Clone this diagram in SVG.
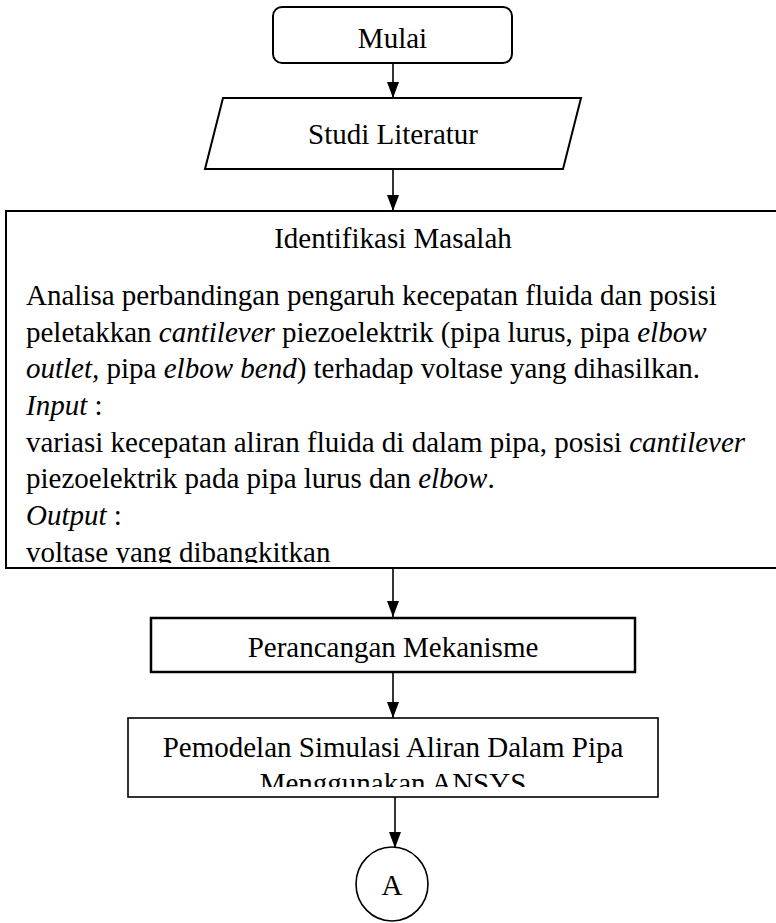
<svg xmlns="http://www.w3.org/2000/svg" width="776" height="923" viewBox="0 0 776 923">
  <style>
    .shape { fill: #ffffff; stroke: #000000; stroke-width: 2; }
    .txt { font-family: "Liberation Serif", "Times New Roman", serif; font-size: 29px; fill: #000000; }
    .mid { text-anchor: middle; }
    .it { font-style: italic; }
    .link { stroke: #000000; stroke-width: 1.6; fill: none; marker-end: url(#arrow); }
  </style>
  <defs>
    <marker id="arrow" markerWidth="16" markerHeight="12" refX="16" refY="6" orient="auto" markerUnits="userSpaceOnUse" viewBox="0 0 16 12">
      <path d="M0,0 L16,6 L0,12 Z" fill="#000000"/>
    </marker>
    <clipPath id="clipIdent"><rect x="6" y="211" width="780" height="352"/></clipPath>
    <clipPath id="clipModel"><rect x="128" y="718" width="530" height="69"/></clipPath>
  </defs>

  <!-- connectors -->
  <g id="connectors">
    <path class="link" d="M393,63 L393,98"/>
    <path class="link" d="M393,169 L393,211"/>
    <path class="link" d="M393,569 L393,617"/>
    <path class="link" d="M393,672 L393,718"/>
    <path class="link" d="M395,797 L395,848"/>
  </g>

  <g id="mulai">
    <rect class="shape" x="273" y="7" width="239" height="56" rx="9" ry="9"/>
    <text class="txt mid" x="392.5" y="48">Mulai</text>
  </g>

  <g id="studi-literatur">
    <polygon class="shape" points="223,98 581,98 563,169 205,169"/>
    <text class="txt mid" x="393" y="144">Studi Literatur</text>
  </g>

  <g id="identifikasi-masalah">
    <rect class="shape" x="6" y="211" width="780" height="357"/>
    <g clip-path="url(#clipIdent)">
      <text class="txt mid" x="393" y="248">Identifikasi Masalah</text>
      <text class="txt" x="26" y="305">Analisa perbandingan pengaruh kecepatan fluida dan posisi</text>
      <text class="txt" x="26" y="342">peletakkan <tspan class="it">cantilever</tspan> piezoelektrik (pipa lurus, pipa <tspan class="it">elbow</tspan></text>
      <text class="txt" x="26" y="378"><tspan class="it">outlet,</tspan> pipa <tspan class="it">elbow bend</tspan>) terhadap voltase yang dihasilkan.</text>
      <text class="txt" x="26" y="415"><tspan class="it">Input</tspan> :</text>
      <text class="txt" x="26" y="452">variasi kecepatan aliran fluida di dalam pipa, posisi <tspan class="it">cantilever</tspan></text>
      <text class="txt" x="26" y="488">piezoelektrik pada pipa lurus dan <tspan class="it">elbow</tspan>.</text>
      <text class="txt" x="26" y="525"><tspan class="it">Output</tspan> :</text>
      <text class="txt" x="26" y="562">voltase yang dibangkitkan</text>
    </g>
  </g>

  <g id="perancangan-mekanisme">
    <rect class="shape" x="151" y="618" width="484" height="54" style="stroke-width:2.5"/>
    <text class="txt mid" x="393" y="657">Perancangan Mekanisme</text>
  </g>

  <g id="pemodelan-simulasi">
    <rect class="shape" x="128" y="718" width="530" height="79" style="stroke-width:1.6"/>
    <g clip-path="url(#clipModel)">
      <text class="txt mid" x="393" y="757">Pemodelan Simulasi Aliran Dalam Pipa</text>
      <text class="txt mid" x="393" y="793">Menggunakan ANSYS</text>
    </g>
  </g>

  <g id="konektor-a">
    <ellipse class="shape" cx="392" cy="884" rx="36" ry="37" style="stroke-width:1.6"/>
    <text class="txt mid" x="392" y="895">A</text>
  </g>
</svg>
